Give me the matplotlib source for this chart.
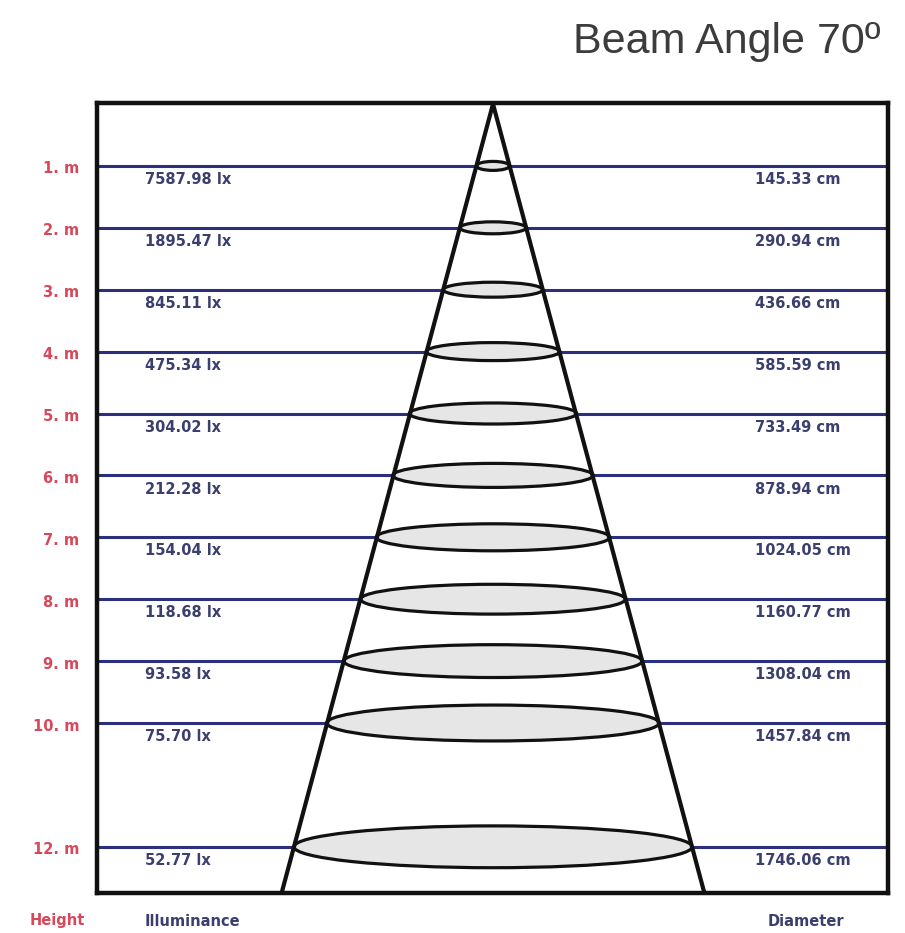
import matplotlib
matplotlib.use("Agg")
import matplotlib.pyplot as plt
import matplotlib.transforms as mtransforms
from matplotlib.patches import Ellipse

# data
heights_m = [1, 2, 3, 4, 5, 6, 7, 8, 9, 10, 12]
illuminance_lx = [7587.98, 1895.47, 845.11, 475.34, 304.02, 212.28,
                  154.04, 118.68, 93.58, 75.70, 52.77]
diameter_cm = [145.33, 290.94, 436.66, 585.59, 733.49, 878.94,
               1024.05, 1160.77, 1308.04, 1457.84, 1746.06]
beam_angle = 70

LINE = "#2b2f7e"
TXT = "#3b3f6e"
RED = "#d9475a"

W, H, DPI = 905, 933, 100
fig = plt.figure(figsize=(W / DPI, H / DPI), dpi=DPI)
fig.patch.set_facecolor("white")

# box in pixels: x 97..888, y 103..893
ax = fig.add_axes([97 / W, (H - 893) / H, (888 - 97) / W, (893 - 103) / H])
px_per_m = 61.9
cm_per_px = 4.387
ax.set_xlim(-396 * cm_per_px, 395 * cm_per_px)
y_bottom = (893 - 104) / px_per_m
ax.set_ylim(y_bottom, (103 - 104) / px_per_m)
ax.set_xticks([])
ax.set_yticks([])
for s in ax.spines.values():
    s.set_linewidth(3.2)
    s.set_color("#111111")
    s.set_zorder(10)

# horizontal level lines
for h in heights_m:
    ax.axhline(h, color=LINE, lw=2.2, zorder=1)

# light spots
for h, d in zip(heights_m, diameter_cm):
    w_px = d / cm_per_px
    e_h = (6 + 0.09 * w_px) / px_per_m
    ax.add_patch(Ellipse((0, h), d, e_h, facecolor="#e6e6e6",
                         edgecolor="#111111", lw=2.3, zorder=2))

# cone edges, slope from the widest spot
slope = diameter_cm[-1] / 2 / heights_m[-1]
for sgn in (-1, 1):
    ax.plot([0, sgn * slope * y_bottom], [0, y_bottom], color="#111111",
            lw=3.0, zorder=3, solid_capstyle="butt")

trans = mtransforms.blended_transform_factory(ax.transAxes, ax.transData)
small = dict(family="DejaVu Sans", fontsize=10.5, fontweight="bold")
for h, lx, d in zip(heights_m, illuminance_lx, diameter_cm):
    ax.text(-0.022, h + 0.05, f"{h}. m", transform=trans, ha="right",
            va="center", color=RED, clip_on=False, **small)
    ax.text(0.061, h + 0.22, f"{lx:.2f} lx", transform=trans, ha="left",
            va="center", color=TXT, **small)
    ax.text(0.832, h + 0.22, f"{d:.2f} cm", transform=trans, ha="left",
            va="center", color=TXT, **small)

fig.text(30 / W, (H - 921) / H, "Height", ha="left", va="center",
         color=RED, **small)
fig.text(145 / W, (H - 921) / H, "Illuminance", ha="left", va="center",
         color=TXT, **small)
fig.text(768 / W, (H - 921) / H, "Diameter", ha="left", va="center",
         color=TXT, **small)

fig.text(880 / W, (H - 42) / H, f"Beam Angle {beam_angle}º", ha="right",
         va="center", family="Liberation Sans", fontsize=31, color="#3c3c3c")

fig.savefig("out.png", dpi=DPI, facecolor="white")
